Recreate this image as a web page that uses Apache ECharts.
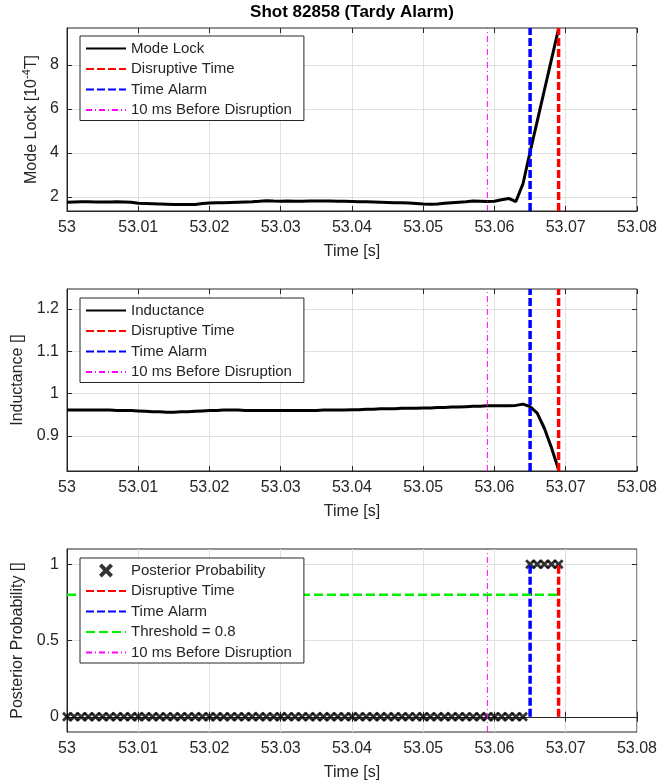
<!DOCTYPE html>
<html>
<head>
<meta charset="utf-8">
<script src="https://cdn.jsdelivr.net/npm/echarts@6/dist/echarts.min.js"></script>
<style>
  html, body { margin: 0; padding: 0; background: #fff; }
  #chart { width: 660px; height: 782px; }
</style>
</head>
<body>
<div id="chart"></div>
<script>
// sample times [s], 1 ms apart
const time = [
  53.000, 53.001, 53.002, 53.003, 53.004, 53.005, 53.006, 53.007, 53.008, 53.009,
  53.010, 53.011, 53.012, 53.013, 53.014, 53.015, 53.016, 53.017, 53.018, 53.019,
  53.020, 53.021, 53.022, 53.023, 53.024, 53.025, 53.026, 53.027, 53.028, 53.029,
  53.030, 53.031, 53.032, 53.033, 53.034, 53.035, 53.036, 53.037, 53.038, 53.039,
  53.040, 53.041, 53.042, 53.043, 53.044, 53.045, 53.046, 53.047, 53.048, 53.049,
  53.050, 53.051, 53.052, 53.053, 53.054, 53.055, 53.056, 53.057, 53.058, 53.059,
  53.060, 53.061, 53.062, 53.063, 53.064, 53.065, 53.066, 53.067, 53.068, 53.069
];
// mode lock [1e-4 T]
const modeLock = [
  1.76, 1.77, 1.78, 1.78, 1.77, 1.77, 1.77, 1.78, 1.77, 1.76,
  1.71, 1.70, 1.69, 1.68, 1.67, 1.66, 1.66, 1.65, 1.66, 1.70,
  1.72, 1.73, 1.74, 1.75, 1.76, 1.77, 1.78, 1.80, 1.83, 1.81,
  1.80, 1.81, 1.80, 1.80, 1.81, 1.82, 1.82, 1.81, 1.80, 1.80,
  1.79, 1.78, 1.78, 1.77, 1.76, 1.75, 1.74, 1.73, 1.72, 1.70,
  1.68, 1.67, 1.68, 1.71, 1.74, 1.76, 1.78, 1.81, 1.80, 1.79,
  1.80, 1.87, 1.93, 1.79, 2.60, 4.05, 5.45, 6.85, 8.25, 9.65
];
// internal inductance
const inductance = [
  0.961, 0.961, 0.961, 0.961, 0.961, 0.961, 0.961, 0.960, 0.960, 0.960,
  0.959, 0.958, 0.957, 0.957, 0.956, 0.956, 0.957, 0.957, 0.958, 0.959,
  0.960, 0.960, 0.961, 0.961, 0.961, 0.960, 0.960, 0.960, 0.960, 0.960,
  0.960, 0.960, 0.960, 0.960, 0.960, 0.960, 0.961, 0.961, 0.961, 0.961,
  0.962, 0.962, 0.963, 0.963, 0.964, 0.964, 0.964, 0.965, 0.965, 0.965,
  0.966, 0.966, 0.967, 0.967, 0.968, 0.968, 0.969, 0.970, 0.970, 0.971,
  0.971, 0.971, 0.971, 0.972, 0.975, 0.969, 0.954, 0.918, 0.872, 0.820
];
// posterior probability of disruption
const posterior = [
  0, 0, 0, 0, 0, 0, 0, 0, 0, 0,
  0, 0, 0, 0, 0, 0, 0, 0, 0, 0,
  0, 0, 0, 0, 0, 0, 0, 0, 0, 0,
  0, 0, 0, 0, 0, 0, 0, 0, 0, 0,
  0, 0, 0, 0, 0, 0, 0, 0, 0, 0,
  0, 0, 0, 0, 0, 0, 0, 0, 0, 0,
  0, 0, 0, 0, 0, 1, 1, 1, 1, 1
];
// event times
const tDisrupt = 53.069;
const tAlarm = 53.065;
const tBefore = 53.059;
const threshold = 0.8;
const alarmLevels = [0, 1];   // vertical span of alarm/disruption lines in bottom panel

// axis ticks
const xTicks = [53, 53.01, 53.02, 53.03, 53.04, 53.05, 53.06, 53.07, 53.08];
const yTicksMode = [2, 4, 6, 8];
const yTicksInd = [0.9, 1, 1.1, 1.2];
const yTicksProb = [0, 0.5, 1];

const FONT = 'Liberation Sans, Arial, sans-serif';
const txt = '#262626';
const gridc = '#e0e0e0';
const RED = '#ff0000', BLUE = '#0000ff', MAG = '#ff00ff', GREEN = '#00ee00';

let chart = echarts.init(document.getElementById('chart'), null, {renderer: 'canvas'});

// y ranges of each panel
const yr = [
  {min: 1.36, max: 9.68},
  {min: 0.817, max: 1.247},
  {min: -0.1, max: 1.1}
];

function xAxes(g) {
  return [
    {
      type: 'value', gridIndex: g, min: xTicks[0], max: xTicks[xTicks.length - 1], position: 'bottom',
      name: 'Time [s]', nameLocation: 'middle', nameGap: 33,
      nameTextStyle: {fontSize: 16, color: txt, fontFamily: FONT},
      axisLine: {show: true, lineStyle: {color: txt}},
      axisTick: {inside: true, length: 5, customValues: xTicks, lineStyle: {color: txt}},
      axisLabel: {customValues: xTicks, fontSize: 16, color: txt, fontFamily: FONT, margin: 9,
        formatter: v => String(+(+v).toFixed(2))},
      splitLine: {show: true, lineStyle: {color: gridc}}
    },
    {
      type: 'value', gridIndex: g, min: xTicks[0], max: xTicks[xTicks.length - 1], position: 'top',
      axisLine: {show: false},
      axisTick: {inside: true, length: 5, customValues: xTicks, lineStyle: {color: txt}},
      axisLabel: {show: false},
      splitLine: {show: false}
    }
  ];
}

function yAxes(g, ticks, name, gap, rich) {
  return [
    {
      type: 'value', gridIndex: g, min: yr[g].min, max: yr[g].max, position: 'left',
      name: name, nameLocation: 'middle', nameRotate: 90, nameGap: gap,
      nameTextStyle: {fontSize: 16, color: txt, fontFamily: FONT, rich: rich},
      axisLine: {show: true, lineStyle: {color: txt}},
      axisTick: {inside: true, length: 5, customValues: ticks, lineStyle: {color: txt}},
      axisLabel: {customValues: ticks, fontSize: 16, color: txt, fontFamily: FONT, margin: 8},
      splitLine: {show: true, lineStyle: {color: gridc}}
    },
    {
      type: 'value', gridIndex: g, min: yr[g].min, max: yr[g].max, position: 'right',
      axisLine: {show: false},
      axisTick: {inside: true, length: 5, customValues: ticks, lineStyle: {color: txt}},
      axisLabel: {show: false},
      splitLine: {show: false}
    }
  ];
}

function vline(name, t, y0, y1, g, color, type, width) {
  return {
    name: name, type: 'line', xAxisIndex: 2 * g, yAxisIndex: 2 * g,
    data: [[t, y0], [t, y1]], symbol: 'none', color: color,
    lineStyle: {color: color, type: type, width: width}, z: 3
  };
}

// legend entries for line series: hide the marker the legend adds by default
function lineItem(name) {
  return {name: name, itemStyle: {opacity: 0}};
}

function legend(top, names) {
  return {
    orient: 'vertical', left: 80, top: top, data: names,
    itemWidth: 40, itemHeight: 14, itemGap: 5.5,
    padding: [5, 12, 3, 5],
    backgroundColor: '#fff', borderColor: txt, borderWidth: 1,
    textStyle: {fontSize: 15, color: txt, fontFamily: FONT},
    selectedMode: false
  };
}

const xMark = 'path://M0,2 L2,0 L5,3 L8,0 L10,2 L7,5 L10,8 L8,10 L5,7 L2,10 L0,8 L3,5 Z';
const dash = [8, 3];
const dashDot = [6, 3, 1, 3];

let option = {
  animation: false,
  backgroundColor: '#fff',
  textStyle: {fontFamily: FONT},
  graphic: [{
    type: 'text', x: 352, y: 4,
    style: {text: 'Shot 82858 (Tardy Alarm)', font: 'bold 17px ' + FONT, fill: '#000', textAlign: 'center'}
  }],
  grid: [
    {left: 67, right: 23, top: 28, height: 183, show: true, borderColor: txt, borderWidth: 1},
    {left: 67, right: 23, top: 289, height: 182, show: true, borderColor: txt, borderWidth: 1},
    {left: 67, right: 23, top: 549, height: 183, show: true, borderColor: txt, borderWidth: 1}
  ],
  legend: [
    legend(36, ['Mode Lock', 'Disruptive Time', 'Time Alarm', '10 ms Before Disruption'].map(lineItem)),
    legend(298, ['Inductance', 'Disruptive Time', 'Time Alarm', '10 ms Before Disruption'].map(lineItem)),
    legend(558, [{name: 'Posterior Probability'}].concat(
      ['Disruptive Time', 'Time Alarm', 'Threshold = 0.8', '10 ms Before Disruption'].map(lineItem)))
  ],
  xAxis: [].concat(xAxes(0), xAxes(1), xAxes(2)),
  yAxis: [].concat(
    yAxes(0, yTicksMode, 'Mode Lock [10{sup|-4}T]', 25,
      {sup: {fontSize: 11, verticalAlign: 'top', padding: [0, 0, 9, 0], color: txt}}),
    yAxes(1, yTicksInd, 'Inductance []', 41),
    yAxes(2, yTicksProb, 'Posterior Probability []', 40)
  ),
  series: [
    // top panel
    {
      name: 'Mode Lock', type: 'line', xAxisIndex: 0, yAxisIndex: 0,
      data: time.map((t, i) => [t, modeLock[i]]), symbol: 'none', color: '#000',
      lineStyle: {color: '#000', width: 3}, z: 2
    },
    vline('Disruptive Time', tDisrupt, yr[0].min, yr[0].max, 0, RED, dash, 3.5),
    vline('Time Alarm', tAlarm, yr[0].min, yr[0].max, 0, BLUE, dash, 3.5),
    vline('10 ms Before Disruption', tBefore, yr[0].min, yr[0].max, 0, MAG, dashDot, 1),
    // middle panel
    {
      name: 'Inductance', type: 'line', xAxisIndex: 2, yAxisIndex: 2,
      data: time.map((t, i) => [t, inductance[i]]), symbol: 'none', color: '#000',
      lineStyle: {color: '#000', width: 3}, z: 2
    },
    vline('Disruptive Time', tDisrupt, yr[1].min, yr[1].max, 1, RED, dash, 3.5),
    vline('Time Alarm', tAlarm, yr[1].min, yr[1].max, 1, BLUE, dash, 3.5),
    vline('10 ms Before Disruption', tBefore, yr[1].min, yr[1].max, 1, MAG, dashDot, 1),
    // bottom panel
    {
      name: 'Posterior Probability', type: 'scatter', xAxisIndex: 4, yAxisIndex: 4,
      data: time.map((t, i) => [t, posterior[i]]),
      symbol: xMark, symbolSize: 10, symbolKeepAspect: true,
      color: '#000', itemStyle: {color: '#000'}, z: 2
    },
    vline('Disruptive Time', tDisrupt, alarmLevels[0], alarmLevels[1], 2, RED, dash, 3.5),
    vline('Time Alarm', tAlarm, alarmLevels[0], alarmLevels[1], 2, BLUE, dash, 3.5),
    {
      name: 'Threshold = 0.8', type: 'line', xAxisIndex: 4, yAxisIndex: 4,
      data: [[time[0], threshold], [tDisrupt, threshold]], symbol: 'none', color: GREEN,
      lineStyle: {color: GREEN, type: [9, 4], width: 2.5}, z: 3
    },
    vline('10 ms Before Disruption', tBefore, yr[2].min, yr[2].max, 2, MAG, dashDot, 1)
  ]
};

chart.setOption(option);
</script>
</body>
</html>
